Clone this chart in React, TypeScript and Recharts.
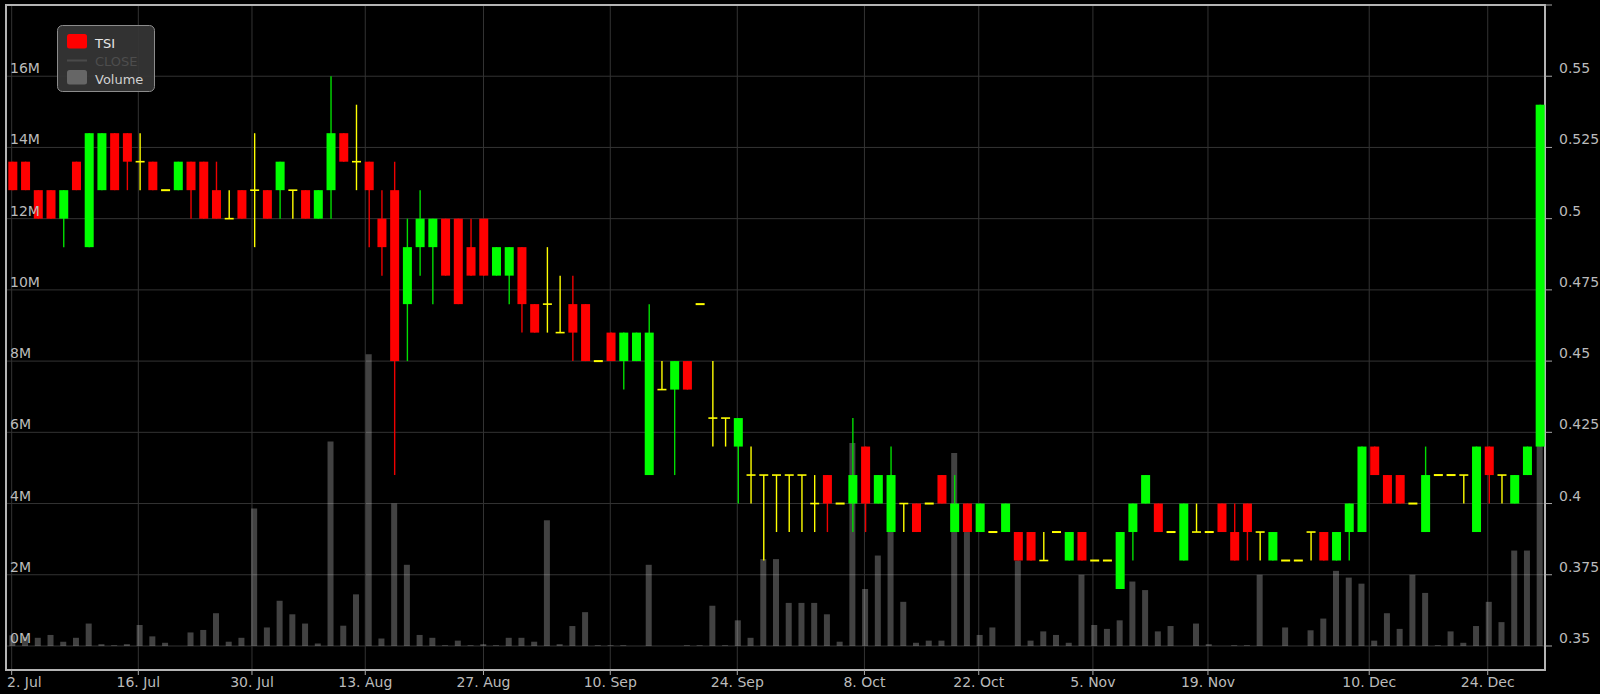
import React from 'react';
import { ComposedChart, Bar, XAxis, YAxis, CartesianGrid, ReferenceArea } from 'recharts';

const opens = [
  0.52, 0.52, 0.51, 0.51, 0.50, 0.52, 0.49, 0.51, 0.53, 0.53,
  0.52, 0.52, 0.51, 0.51, 0.52, 0.52, 0.51, 0.50, 0.51, 0.51,
  0.51, 0.51, 0.51, 0.51, 0.50, 0.51, 0.53, 0.52, 0.52, 0.50,
  0.51, 0.47, 0.49, 0.49, 0.50, 0.50, 0.49, 0.50, 0.48, 0.48,
  0.49, 0.47, 0.47, 0.46, 0.47, 0.47, 0.45, 0.46, 0.45, 0.45,
  0.41, 0.44, 0.44, 0.45, 0.47, 0.43, 0.43, 0.42, 0.41, 0.41,
  0.41, 0.41, 0.41, 0.40, 0.41, 0.40, 0.40, 0.42, 0.40, 0.39,
  0.40, 0.40, 0.40, 0.41, 0.39, 0.40, 0.39, 0.39, 0.39, 0.39,
  0.39, 0.38, 0.39, 0.38, 0.39, 0.38, 0.38, 0.37, 0.39, 0.40,
  0.40, 0.39, 0.38, 0.39, 0.39, 0.40, 0.39, 0.40, 0.39, 0.38,
  0.38, 0.38, 0.39, 0.39, 0.38, 0.39, 0.39, 0.42, 0.41, 0.41,
  0.40, 0.39, 0.41, 0.41, 0.41, 0.39, 0.42, 0.41, 0.40, 0.41,
  0.42,
];

const highs = [
  0.52, 0.52, 0.51, 0.51, 0.51, 0.52, 0.53, 0.53, 0.53, 0.53,
  0.53, 0.52, 0.51, 0.52, 0.52, 0.52, 0.52, 0.51, 0.51, 0.53,
  0.51, 0.52, 0.51, 0.51, 0.51, 0.55, 0.53, 0.54, 0.52, 0.51,
  0.52, 0.50, 0.51, 0.50, 0.50, 0.50, 0.50, 0.50, 0.49, 0.49,
  0.49, 0.47, 0.49, 0.48, 0.48, 0.47, 0.45, 0.46, 0.46, 0.46,
  0.47, 0.45, 0.45, 0.45, 0.47, 0.45, 0.43, 0.43, 0.42, 0.41,
  0.41, 0.41, 0.41, 0.41, 0.41, 0.40, 0.43, 0.42, 0.41, 0.42,
  0.40, 0.40, 0.40, 0.41, 0.41, 0.40, 0.40, 0.39, 0.40, 0.39,
  0.39, 0.39, 0.39, 0.39, 0.39, 0.38, 0.38, 0.39, 0.40, 0.41,
  0.40, 0.39, 0.40, 0.40, 0.39, 0.40, 0.40, 0.40, 0.39, 0.39,
  0.38, 0.38, 0.39, 0.39, 0.39, 0.40, 0.42, 0.42, 0.41, 0.41,
  0.40, 0.42, 0.41, 0.41, 0.41, 0.42, 0.42, 0.41, 0.41, 0.42,
  0.54,
];

const lows = [
  0.51, 0.51, 0.50, 0.50, 0.49, 0.51, 0.49, 0.51, 0.51, 0.51,
  0.51, 0.51, 0.51, 0.51, 0.50, 0.50, 0.50, 0.50, 0.50, 0.49,
  0.50, 0.50, 0.50, 0.50, 0.50, 0.50, 0.52, 0.51, 0.49, 0.48,
  0.41, 0.45, 0.48, 0.47, 0.48, 0.47, 0.48, 0.48, 0.48, 0.47,
  0.46, 0.46, 0.46, 0.46, 0.45, 0.45, 0.45, 0.45, 0.44, 0.45,
  0.41, 0.44, 0.41, 0.44, 0.47, 0.42, 0.42, 0.40, 0.40, 0.38,
  0.39, 0.39, 0.39, 0.39, 0.39, 0.40, 0.39, 0.39, 0.40, 0.39,
  0.39, 0.39, 0.40, 0.40, 0.39, 0.39, 0.39, 0.39, 0.39, 0.38,
  0.38, 0.38, 0.39, 0.38, 0.38, 0.38, 0.38, 0.37, 0.38, 0.40,
  0.39, 0.39, 0.38, 0.39, 0.39, 0.39, 0.38, 0.38, 0.38, 0.38,
  0.38, 0.38, 0.38, 0.38, 0.38, 0.38, 0.39, 0.41, 0.40, 0.40,
  0.40, 0.39, 0.41, 0.41, 0.40, 0.39, 0.40, 0.40, 0.40, 0.41,
  0.42,
];

const closes = [
  0.51, 0.51, 0.50, 0.50, 0.51, 0.51, 0.53, 0.53, 0.51, 0.52,
  0.52, 0.51, 0.51, 0.52, 0.51, 0.50, 0.50, 0.50, 0.50, 0.51,
  0.50, 0.52, 0.51, 0.50, 0.51, 0.53, 0.52, 0.52, 0.51, 0.49,
  0.45, 0.49, 0.50, 0.50, 0.48, 0.47, 0.48, 0.48, 0.49, 0.49,
  0.47, 0.46, 0.47, 0.46, 0.46, 0.45, 0.45, 0.45, 0.46, 0.46,
  0.46, 0.44, 0.45, 0.44, 0.47, 0.43, 0.43, 0.43, 0.41, 0.41,
  0.41, 0.41, 0.41, 0.40, 0.40, 0.40, 0.41, 0.40, 0.41, 0.41,
  0.40, 0.39, 0.40, 0.40, 0.40, 0.39, 0.40, 0.39, 0.40, 0.38,
  0.38, 0.38, 0.39, 0.39, 0.38, 0.38, 0.38, 0.39, 0.40, 0.41,
  0.39, 0.39, 0.40, 0.39, 0.39, 0.39, 0.38, 0.39, 0.39, 0.39,
  0.38, 0.38, 0.39, 0.38, 0.39, 0.40, 0.42, 0.41, 0.40, 0.40,
  0.40, 0.41, 0.41, 0.41, 0.41, 0.42, 0.41, 0.41, 0.41, 0.42,
  0.54,
];

// volume in millions
const volumesM = [
  0.3, 0.25, 0.23, 0.31, 0.12, 0.23, 0.63, 0.05, 0.02, 0.05,
  0.59, 0.27, 0.09, 0, 0.38, 0.45, 0.92, 0.12, 0.23, 3.86,
  0.52, 1.27, 0.89, 0.63, 0.07, 5.74, 0.57, 1.45, 8.19, 0.21,
  4.0, 2.28, 0.31, 0.23, 0.02, 0.15, 0.02, 0.05, 0.02, 0.23,
  0.23, 0.12, 3.53, 0.05, 0.56, 0.95, 0.02, 0.02, 0.02, 0,
  2.28, 0, 0, 0.02, 0.02, 1.13, 0.02, 0.72, 0.23, 2.44,
  2.44, 1.21, 1.21, 1.21, 0.89, 0.12, 5.7, 1.6, 2.54, 3.3,
  1.24, 0.09, 0.15, 0.15, 5.42, 3.2, 0.31, 0.52, 0, 2.4,
  0.15, 0.41, 0.31, 0.09, 2.0, 0.59, 0.48, 0.72, 1.81, 1.57,
  0.41, 0.56, 0, 0.63, 0.05, 0, 0.02, 0.02, 2.0, 0,
  0.52, 0, 0.44, 0.77, 2.11, 1.92, 1.75, 0.15, 0.92, 0.48,
  2.0, 1.49, 0.02, 0.41, 0.09, 0.56, 1.24, 0.67, 2.68, 2.68,
  10,
];

const dateTickPositions = [-0.08, 9.87, 18.8, 27.7, 36.99, 46.95, 56.93, 66.92, 75.9, 84.87, 93.91, 106.58, 115.89];
const dateTickLabels = ['2. Jul', '16. Jul', '30. Jul', '13. Aug', '27. Aug', '10. Sep', '24. Sep', '8. Oct', '22. Oct', '5. Nov', '19. Nov', '10. Dec', '24. Dec'];
const priceTicks = [0.35, 0.375, 0.4, 0.425, 0.45, 0.475, 0.5, 0.525, 0.55, 0.575];
const volumeTicks = [0, 2e6, 4e6, 6e6, 8e6, 10e6, 12e6, 14e6, 16e6];

const X_DOMAIN: [number, number] = [-0.526, 120.39];
const PRICE_DOMAIN: [number, number] = [0.34157, 0.575];
const VOL_DOMAIN: [number, number] = [-674400, 18000000];

const FONT = '"DejaVu Sans", Verdana, sans-serif';
const LABEL = '#bbbbbb';

const data = opens.map((o, i) => ({
  i,
  o,
  h: highs[i],
  l: lows[i],
  c: closes[i],
  v: volumesM[i] * 1e6,
}));

const Candle = (props: any) => {
  const { x, y, width, height, payload } = props;
  if (!payload || x == null || y == null) return null;
  const { o, h, l, c } = payload;
  const X = Number(x);
  const Y = Number(y);
  const W = Number(width);
  const H = Number(height) || 0;
  const yTop = H >= 0 ? Y : Y + H;
  const hh = Math.abs(H);
  const span = h - l;
  const k = span > 0 ? hh / span : 0;
  const py = (p: number) => yTop + (h - p) * k;
  const cx = X + W / 2;
  const color = c > o ? '#00ff00' : c < o ? '#ff0000' : '#ffff00';
  const wick = c > o ? '#00dd00' : c < o ? '#ee0000' : '#ffff00';
  if (o === c) {
    const yy = py(o);
    return (
      <g>
        {span > 0 && <line x1={cx} x2={cx} y1={py(h)} y2={py(l)} stroke={wick} strokeWidth={1.4} />}
        <line x1={X} x2={X + W} y1={yy} y2={yy} stroke={color} strokeWidth={span > 0 ? 1.6 : 2} />
      </g>
    );
  }
  const top = py(Math.max(o, c));
  const bot = py(Math.min(o, c));
  return (
    <g>
      {span > 0 && <line x1={cx} x2={cx} y1={py(h)} y2={py(l)} stroke={wick} strokeWidth={1.4} />}
      <rect x={X} y={top} width={W} height={Math.max(bot - top, 1)} fill={color} />
    </g>
  );
};

const LeftTick = (props: any) => {
  const { x, y, payload } = props;
  return (
    <text x={Number(x) + 4} y={Number(y) - 3} fill={LABEL} fontSize={14} fontFamily={FONT} textAnchor="start">
      {`${Math.round(payload.value / 1e6)}M`}
    </text>
  );
};

const RightTick = (props: any) => {
  const { x, y, payload } = props;
  if (payload.value > 0.56) return <g />;
  return (
    <text x={Number(x)} y={Number(y) - 3} fill={LABEL} fontSize={14} fontFamily={FONT} textAnchor="start">
      {String(payload.value)}
    </text>
  );
};

const BottomTick = (props: any) => {
  const { x, y, payload } = props;
  const idx = dateTickPositions.indexOf(payload.value);
  const label = idx >= 0 ? dateTickLabels[idx] : '';
  const first = idx === 0;
  return (
    <text
      x={first ? 7 : Number(x)}
      y={Number(y) + 10}
      fill={LABEL}
      fontSize={14}
      fontFamily={FONT}
      textAnchor={first ? 'start' : 'middle'}
    >
      {label}
    </text>
  );
};

const Legend = () => (
  <svg width={1600} height={694} style={{ position: 'absolute', left: 0, top: 0, pointerEvents: 'none' }}>
    <rect x={57.5} y={25.5} width={97} height={66} rx={5} fill="#363636" fillOpacity={0.93} stroke="#8c8c8c" />
    <rect x={67} y={34} width={20} height={14.5} rx={2.5} fill="#ff0000" />
    <text x={95} y={48} fontSize={13} fontFamily={FONT} fill="#e6e6e6">TSI</text>
    <line x1={67} x2={87} y1={60.5} y2={60.5} stroke="#4a4a4a" strokeWidth={2} />
    <text x={95} y={65.5} fontSize={13} fontFamily={FONT} fill="#4d4d4d">CLOSE</text>
    <rect x={67} y={70} width={20} height={14.5} rx={2.5} fill="#666666" />
    <text x={95} y={83.5} fontSize={13} fontFamily={FONT} fill="#d0d0d0">Volume</text>
  </svg>
);

export default function App() {
  return (
    <div style={{ position: 'absolute', left: 0, top: 0, width: 1600, height: 694, background: '#000' }}>
      <ComposedChart
        width={1600}
        height={694}
        data={data}
        margin={{ top: 5, right: 0, bottom: 0, left: 5 }}
      >
        <CartesianGrid xAxisId="x" yAxisId="price" stroke="#333333" strokeWidth={1} />
        <XAxis
          xAxisId="v"
          orientation="top"
          dataKey="i"
          type="number"
          domain={X_DOMAIN}
          allowDataOverflow
          hide
          height={0}
          ticks={dateTickPositions}
        />
        <XAxis
          xAxisId="x"
          orientation="bottom"
          dataKey="i"
          type="number"
          domain={X_DOMAIN}
          allowDataOverflow
          ticks={dateTickPositions}
          interval={0}
          height={24}
          axisLine={false}
          tickLine={{ stroke: '#aaaaaa' }}
          tickSize={5}
          tickMargin={2}
          tick={<BottomTick />}
        />
        <YAxis
          yAxisId="vol"
          orientation="left"
          type="number"
          domain={VOL_DOMAIN}
          allowDataOverflow
          ticks={volumeTicks}
          interval={0}
          width={1}
          axisLine={false}
          tickLine={false}
          tickSize={0}
          tickMargin={0}
          tick={<LeftTick />}
        />
        <YAxis
          yAxisId="price"
          orientation="right"
          type="number"
          domain={PRICE_DOMAIN}
          allowDataOverflow
          ticks={priceTicks}
          interval={0}
          width={55}
          axisLine={false}
          tickLine={{ stroke: '#aaaaaa' }}
          tickSize={7}
          tickMargin={7}
          tick={<RightTick />}
        />
        <Bar
          xAxisId="v"
          yAxisId="vol"
          dataKey="v"
          barSize={6}
          fill="rgba(255,255,255,0.26)"
          isAnimationActive={false}
        />
        <Bar
          xAxisId="x"
          yAxisId="price"
          dataKey={(d: any) => [d.l, d.h]}
          barSize={9}
          shape={<Candle />}
          isAnimationActive={false}
        />
        <ReferenceArea
          xAxisId="x"
          yAxisId="price"
          x1={X_DOMAIN[0]}
          x2={X_DOMAIN[1]}
          y1={PRICE_DOMAIN[0]}
          y2={PRICE_DOMAIN[1]}
          fill="none"
          fillOpacity={0}
          stroke="#b4b4b4"
          strokeWidth={2}
          ifOverflow="visible"
        />
      </ComposedChart>
      <Legend />
    </div>
  );
}
